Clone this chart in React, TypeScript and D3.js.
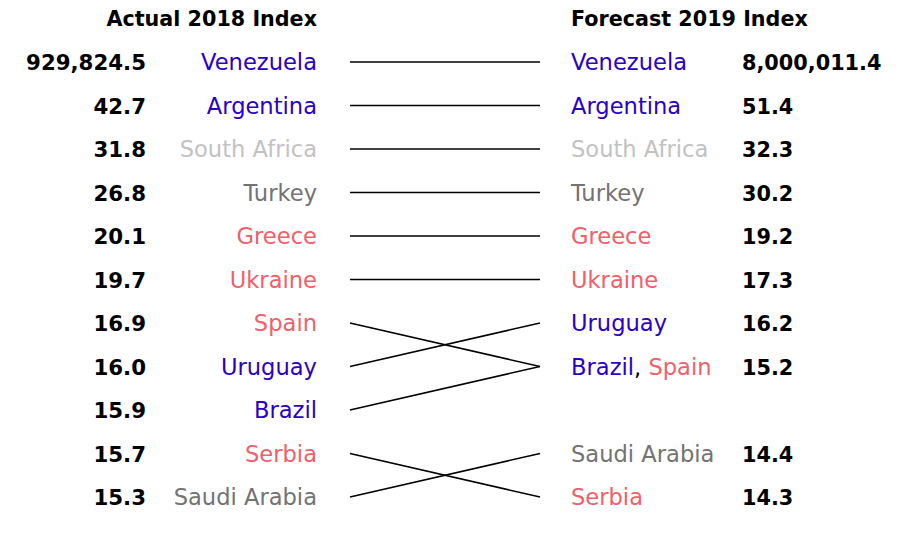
import * as d3 from "d3";
import React from "react";

const countries = ["Venezuela", "Argentina", "South Africa", "Turkey", "Greece", "Ukraine", "Spain", "Uruguay", "Brazil", "Serbia", "Saudi Arabia"];
const actual2018 = ["929,824.5", "42.7", "31.8", "26.8", "20.1", "19.7", "16.9", "16.0", "15.9", "15.7", "15.3"];
// row each country lands on in the forecast column
const forecastRow = [0, 1, 2, 3, 4, 5, 7, 6, 7, 10, 9];
const forecastLabels = ["8,000,011.4", "51.4", "32.3", "30.2", "19.2", "17.3", "16.2", "15.2", "", "14.4", "14.3"];
const groups = ["blue", "blue", "lightgray", "gray", "red", "red", "red", "blue", "blue", "red", "gray"];

const colorOf: Record<string, string> = {
  blue: "#2a00c8",
  lightgray: "#c2c2c2",
  gray: "#737373",
  red: "#f0606a",
};

const W = 904;
const H = 534;
const font = "'DejaVu Sans', sans-serif";

export default function App() {
  const y = d3.scaleLinear().domain([0, 10]).range([62, 497]);
  const lineX = d3.scaleLinear().domain([0, 1]).range([350, 540]);
  const base = 8; // text baseline below line center

  // right side names per row
  const rightRows: number[][] = d3.range(11).map(() => []);
  countries.forEach((c, i) => rightRows[forecastRow[i]].push(i));
  // Brazil first, then Spain
  rightRows[7].sort((a, b) => (countries[a] === "Brazil" ? -1 : countries[b] === "Brazil" ? 1 : 0));

  return (
    <svg width={W} height={H} style={{ position: "absolute", left: 0, top: 0 }} fontFamily={font}>
      <rect width={W} height={H} fill="#fff" />
      <text x={317} y={26} textAnchor="end" fontWeight="bold" fontSize={20.7} fill="#000">Actual 2018 Index</text>
      <text x={571} y={26} textAnchor="start" fontWeight="bold" fontSize={20.7} fill="#000">Forecast 2019 Index</text>

      {countries.map((c, i) => (
        <g key={c}>
          <text x={146} y={y(i) + base} textAnchor="end" fontWeight="bold" fontSize={21.3} fill="#000">{actual2018[i]}</text>
          <text x={317} y={y(i) + base} textAnchor="end" fontSize={22.6} fill={colorOf[groups[i]]}>{c}</text>
          <line x1={lineX(0)} x2={lineX(1)} y1={y(i)} y2={y(forecastRow[i])} stroke="#000" strokeWidth={1.5} />
        </g>
      ))}

      {rightRows.map((idx, r) =>
        idx.length ? (
          <text key={"r" + r} x={571} y={y(r) + base} fontSize={22.6}>
            {idx.map((i, k) => (
              <React.Fragment key={i}>
                {k > 0 && <tspan fill="#000">, </tspan>}
                <tspan fill={colorOf[groups[i]]}>{countries[i]}</tspan>
              </React.Fragment>
            ))}
          </text>
        ) : null
      )}

      {forecastLabels.map((v, r) => (
        <text key={"v" + r} x={742} y={y(r) + base} fontWeight="bold" fontSize={20.8} fill="#000">{v}</text>
      ))}
    </svg>
  );
}
